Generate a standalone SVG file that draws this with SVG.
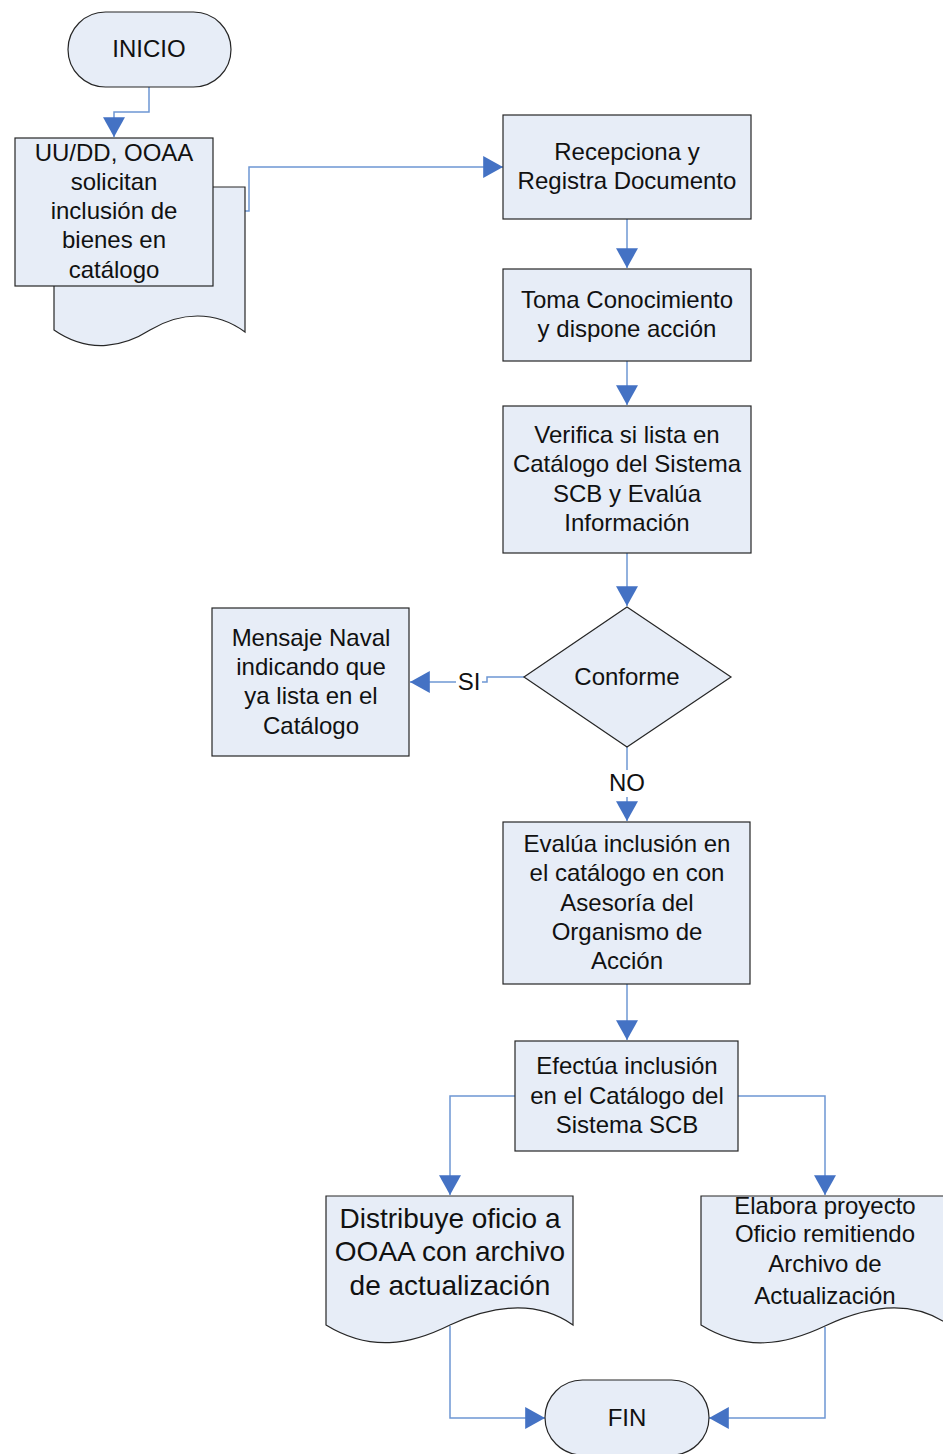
<svg xmlns="http://www.w3.org/2000/svg" width="943" height="1454" viewBox="0 0 943 1454">
<style>
.shape{fill:#E7EDF7;stroke:#262626;stroke-width:1.2}
.t{font-family:"Liberation Sans",Arial,sans-serif;font-size:24px;fill:#111;text-anchor:middle}
.big{font-size:28px}
.c{fill:none;stroke:#6E97D3;stroke-width:1.5}
</style>
<defs>
<marker id="ah" markerUnits="userSpaceOnUse" markerWidth="20" markerHeight="22" viewBox="0 0 18 20" refX="18" refY="10" orient="auto">
<path d="M0,0 L18,10 L0,20 Z" fill="#4472C4"/>
</marker>
</defs>
<rect width="943" height="1454" fill="#fff"/>
<g id="connectors">
<path class="c" d="M149,87 V112 H114 V137" marker-end="url(#ah)"/>
<path class="c" d="M213,211 H249 V167 H503" marker-end="url(#ah)"/>
<path class="c" d="M627,219 V268" marker-end="url(#ah)"/>
<path class="c" d="M627,361 V405" marker-end="url(#ah)"/>
<path class="c" d="M627,553 V606" marker-end="url(#ah)"/>
<path class="c" d="M524,677 H487 V682 H482"/>
<path class="c" d="M456,682 H410" marker-end="url(#ah)"/>
<path class="c" d="M627,747 V770"/>
<path class="c" d="M627,797 V821" marker-end="url(#ah)"/>
<path class="c" d="M627,984 V1040" marker-end="url(#ah)"/>
<path class="c" d="M515,1096 H450 V1195" marker-end="url(#ah)"/>
<path class="c" d="M738,1096 H825 V1195" marker-end="url(#ah)"/>
<path class="c" d="M450,1326 V1418 H545" marker-end="url(#ah)"/>
<path class="c" d="M825,1327 V1418 H709" marker-end="url(#ah)"/>
<text class="t" x="469" y="690">SI</text>
<text class="t" x="627" y="791">NO</text>
</g>
<g id="inicio">
<rect class="shape" x="68" y="12" width="163" height="75" rx="37.5"/>
<text class="t" x="149" y="57">INICIO</text>
</g>
<g id="solicitud">
<path class="shape" d="M54,187 H245 V332 C215,310 180,312 150,330 C125,346 90,355 54,330 Z"/>
<rect class="shape" x="15" y="138" width="198" height="148"/>
<text class="t" x="114" y="161">UU/DD, OOAA</text>
<text class="t" x="114" y="190">solicitan</text>
<text class="t" x="114" y="219">inclusión de</text>
<text class="t" x="114" y="248">bienes en</text>
<text class="t" x="114" y="278">catálogo</text>
</g>
<g id="recepciona">
<rect class="shape" x="503" y="115" width="248" height="104"/>
<text class="t" x="627" y="160">Recepciona y</text>
<text class="t" x="627" y="189">Registra Documento</text>
</g>
<g id="toma">
<rect class="shape" x="503" y="269" width="248" height="92"/>
<text class="t" x="627" y="308">Toma Conocimiento</text>
<text class="t" x="627" y="337">y dispone acción</text>
</g>
<g id="verifica">
<rect class="shape" x="503" y="406" width="248" height="147"/>
<text class="t" x="627" y="443">Verifica si lista en</text>
<text class="t" x="627" y="472">Catálogo del Sistema</text>
<text class="t" x="627" y="502">SCB y Evalúa</text>
<text class="t" x="627" y="531">Información</text>
</g>
<g id="conforme">
<path class="shape" d="M627,607 L731,677 L627,747 L524,677 Z"/>
<text class="t" x="627" y="685">Conforme</text>
</g>
<g id="mensaje">
<rect class="shape" x="212" y="608" width="197" height="148"/>
<text class="t" x="311" y="646">Mensaje Naval</text>
<text class="t" x="311" y="675">indicando que</text>
<text class="t" x="311" y="704">ya lista en el</text>
<text class="t" x="311" y="734">Catálogo</text>
</g>
<g id="evalua">
<rect class="shape" x="503" y="822" width="247" height="162"/>
<text class="t" x="627" y="852">Evalúa inclusión en</text>
<text class="t" x="627" y="881">el catálogo en con</text>
<text class="t" x="627" y="911">Asesoría del</text>
<text class="t" x="627" y="940">Organismo de</text>
<text class="t" x="627" y="969">Acción</text>
</g>
<g id="efectua">
<rect class="shape" x="515" y="1041" width="223" height="110"/>
<text class="t" x="627" y="1074">Efectúa inclusión</text>
<text class="t" x="627" y="1104">en el Catálogo del</text>
<text class="t" x="627" y="1133">Sistema SCB</text>
</g>
<g id="distribuye">
<path class="shape" d="M326,1196 H573 V1325 C540,1302 500,1302 450,1325 C410,1345 370,1352 326,1325 Z"/>
<text class="t big" x="450" y="1228">Distribuye oficio a</text>
<text class="t big" x="450" y="1261">OOAA con archivo</text>
<text class="t big" x="450" y="1295">de actualización</text>
</g>
<g id="elabora">
<path class="shape" d="M701,1196 H949 V1325 C916,1302 876,1302 825,1326 C785,1345 745,1352 701,1325 Z"/>
<text class="t" x="825" y="1214">Elabora proyecto</text>
<text class="t" x="825" y="1242">Oficio remitiendo</text>
<text class="t" x="825" y="1272">Archivo de</text>
<text class="t" x="825" y="1304">Actualización</text>
</g>
<g id="fin">
<rect class="shape" x="545" y="1380" width="164" height="75" rx="37.5"/>
<text class="t" x="627" y="1426">FIN</text>
</g>
</svg>
